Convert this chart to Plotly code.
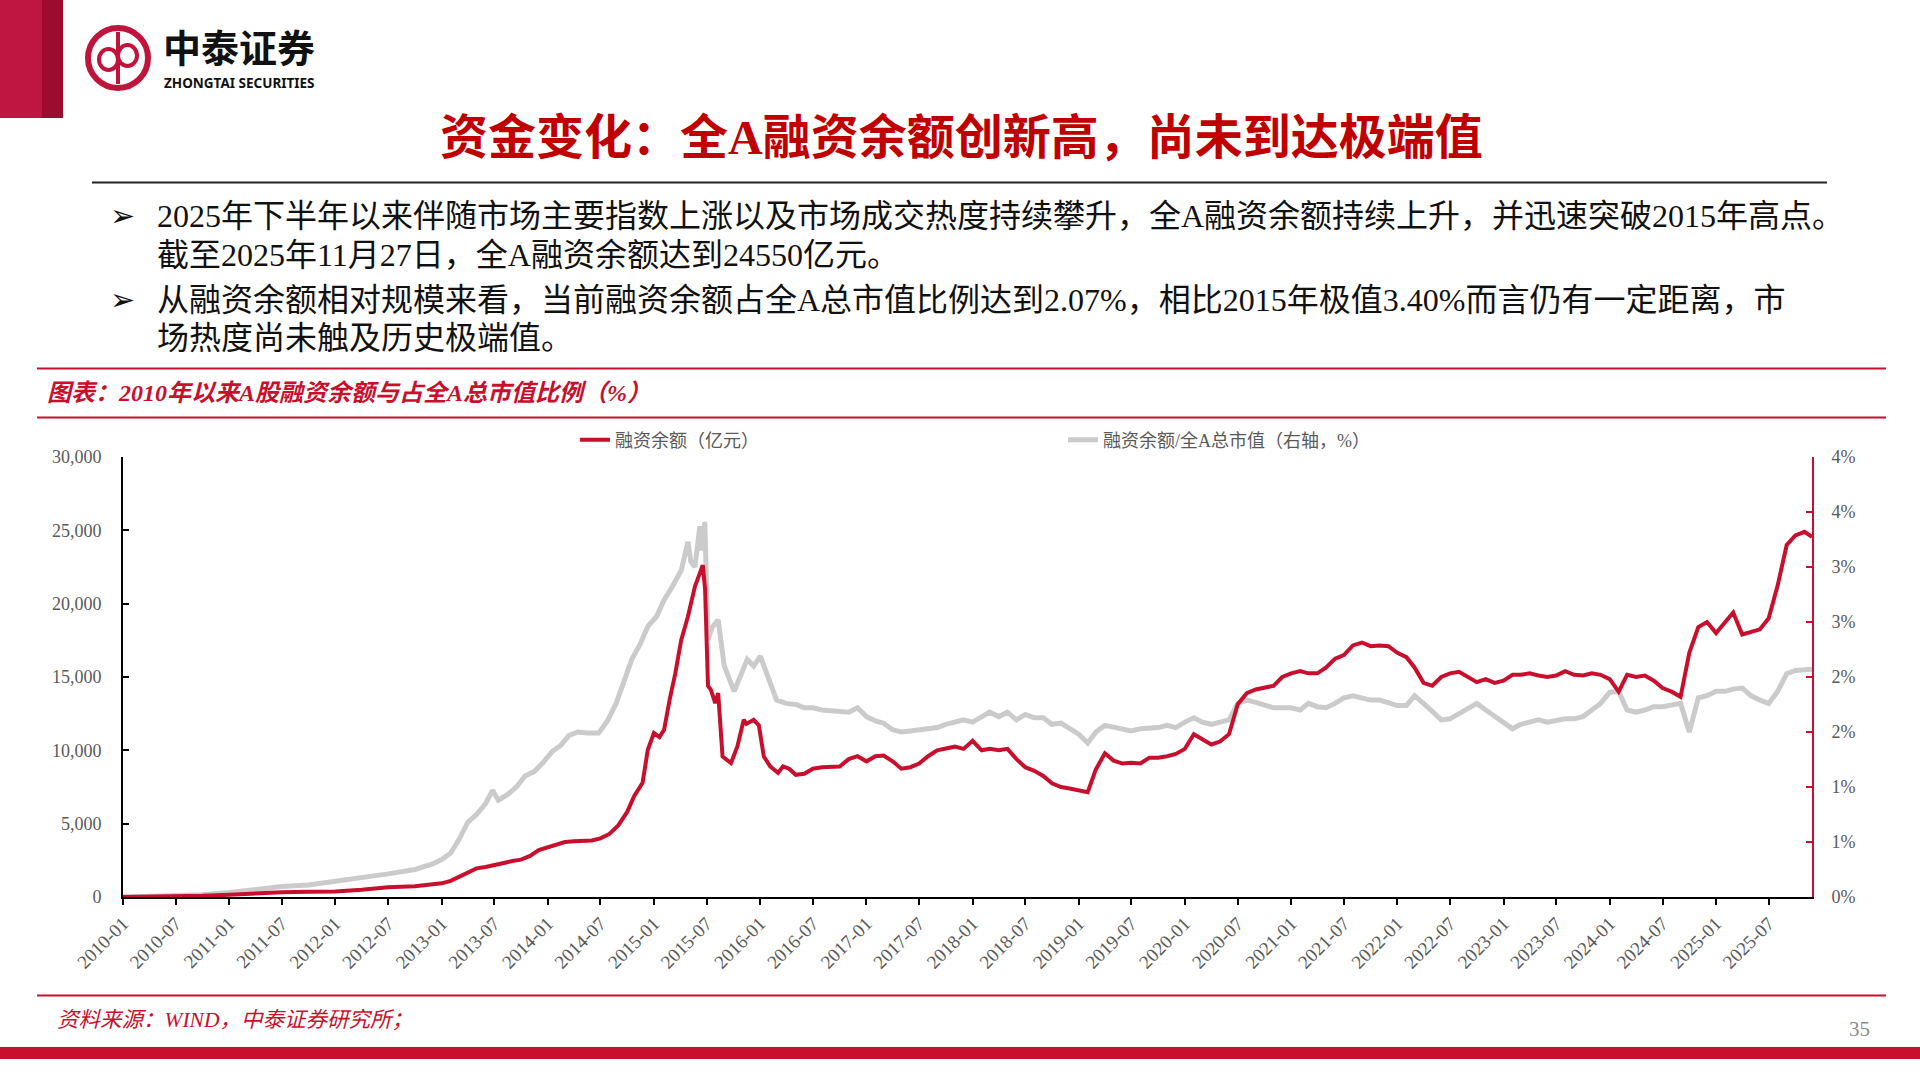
import plotly.graph_objects as go

# ---------------- data ----------------
balance_dates = [
    "2010-01-01", "2010-04-01", "2010-07-01", "2010-10-01",
    "2011-01-01", "2011-04-01", "2011-07-01", "2011-10-01",
    "2012-01-01", "2012-04-01", "2012-07-01", "2012-10-01",
    "2013-01-01", "2013-02-01", "2013-03-01", "2013-04-01", "2013-05-01", "2013-06-01",
    "2013-07-01", "2013-08-01", "2013-09-01", "2013-10-01", "2013-11-01", "2013-12-01",
    "2014-01-01", "2014-02-01", "2014-03-01", "2014-04-01", "2014-05-01", "2014-06-01",
    "2014-07-01", "2014-08-01", "2014-09-01", "2014-10-01", "2014-10-25", "2014-11-23",
    "2014-12-11", "2015-01-01", "2015-01-20", "2015-02-05", "2015-02-24", "2015-03-15",
    "2015-04-05", "2015-04-28", "2015-05-22", "2015-06-18", "2015-06-26", "2015-07-06",
    "2015-07-16", "2015-07-31", "2015-08-10", "2015-08-25", "2015-09-23", "2015-10-15",
    "2015-11-06", "2015-11-15", "2015-12-10", "2015-12-28", "2016-01-14", "2016-02-05",
    "2016-03-03", "2016-03-20", "2016-04-10", "2016-05-03", "2016-06-01",
    "2016-07-01", "2016-08-01", "2016-09-01", "2016-10-01", "2016-11-01", "2016-12-01",
    "2017-01-01", "2017-02-01", "2017-03-01", "2017-04-01", "2017-05-01", "2017-06-01",
    "2017-07-01", "2017-08-01", "2017-09-01", "2017-10-01", "2017-11-01", "2017-12-01",
    "2018-01-01", "2018-02-01", "2018-03-01", "2018-04-01", "2018-05-01", "2018-06-01",
    "2018-07-01", "2018-08-01", "2018-09-01", "2018-10-01", "2018-11-01", "2018-12-01",
    "2019-01-01", "2019-02-01", "2019-03-01", "2019-04-01", "2019-05-01", "2019-06-01",
    "2019-07-01", "2019-08-01", "2019-09-01", "2019-10-01", "2019-11-01", "2019-12-01",
    "2020-01-01", "2020-02-01", "2020-03-01", "2020-04-01", "2020-05-01", "2020-06-01",
    "2020-07-01", "2020-08-01", "2020-09-01", "2020-10-01", "2020-11-01", "2020-12-01",
    "2021-01-01", "2021-02-01", "2021-03-01", "2021-04-01", "2021-05-01", "2021-06-01",
    "2021-07-01", "2021-08-01", "2021-09-01", "2021-10-01", "2021-11-01", "2021-12-01",
    "2022-01-01", "2022-02-01", "2022-03-01", "2022-04-01", "2022-05-01", "2022-06-01",
    "2022-07-01", "2022-08-01", "2022-09-01", "2022-10-01", "2022-11-01", "2022-12-01",
    "2023-01-01", "2023-02-01", "2023-03-01", "2023-04-01", "2023-05-01", "2023-06-01",
    "2023-07-01", "2023-08-01", "2023-09-01", "2023-10-01", "2023-11-01", "2023-12-01",
    "2024-01-01", "2024-02-01", "2024-03-01", "2024-04-01", "2024-05-01", "2024-06-01",
    "2024-07-01", "2024-08-01", "2024-09-01", "2024-10-01", "2024-11-01", "2024-12-01",
    "2025-01-01", "2025-02-01", "2025-03-01", "2025-04-01", "2025-05-01", "2025-06-01",
    "2025-07-01", "2025-08-01", "2025-09-01", "2025-10-01", "2025-11-01", "2025-11-27",
]
balance_values = [
    0, 5, 35, 80,
    150, 260, 330, 360,
    380, 500, 670, 740,
    930, 1100, 1350, 1700, 1950, 2050,
    2200, 2300, 2450, 2550, 2800, 3200,
    3400, 3600, 3750, 3800, 3850, 3850,
    4000, 4300, 4900, 5800, 6870, 7780,
    10040, 11180, 10900, 11400, 13440, 15200,
    17530, 19120, 21160, 22630, 21000, 14400,
    14120, 13220, 13900, 9580, 9130, 10270,
    12080, 11800, 12080, 11700, 9580, 8910,
    8460, 8910, 8750, 8330, 8400,
    8750, 8850, 8850, 8900, 9400, 9600,
    9250, 9600, 9650, 9250, 8750, 8850,
    9100, 9600, 10000, 10100, 10250, 10100,
    10650, 10000, 10100, 10000, 10100, 9400,
    8850, 8600, 8250, 7750, 7500, 7400,
    7300, 7150, 8700, 9800, 9300, 9100,
    9150, 9100, 9500, 9500, 9600, 9750,
    10100, 11100, 10750, 10400, 10600, 11100,
    13150, 13900, 14150, 14250, 14400, 15000,
    15250, 15400, 15250, 15250, 15650, 16250,
    16500, 17150, 17350, 17100, 17150, 17100,
    16650, 16350, 15650, 14600, 14400, 15000,
    15250, 15350, 15000, 14650, 14850, 14600,
    14750, 15150, 15150, 15250, 15100, 15000,
    15100, 15400, 15150, 15100, 15250, 15150,
    14850, 14000, 15150, 15000, 15100, 14750,
    14250, 14000, 13650, 16650, 18400, 18750,
    18000, 18750, 19400, 17900, 18100, 18250,
    19000, 21250, 24000, 24650, 24900, 24550,
]

ratio_dates = [
    "2010-01-01", "2010-04-01", "2010-07-01", "2010-10-01",
    "2011-01-01", "2011-04-01", "2011-07-01", "2011-10-01",
    "2012-01-01", "2012-04-01", "2012-07-01", "2012-10-01", "2012-12-01",
    "2013-01-01", "2013-02-01", "2013-03-01", "2013-04-01", "2013-05-01", "2013-06-01",
    "2013-06-25", "2013-07-15", "2013-08-15", "2013-09-15", "2013-10-15", "2013-11-15",
    "2013-12-15", "2014-01-15", "2014-02-15", "2014-03-15", "2014-04-15", "2014-05-15",
    "2014-06-25", "2014-07-25", "2014-08-24", "2014-09-20", "2014-10-17", "2014-11-15",
    "2014-12-11", "2015-01-10", "2015-02-05", "2015-03-05", "2015-04-05", "2015-04-28",
    "2015-05-08", "2015-05-22", "2015-06-08", "2015-06-15", "2015-06-25", "2015-07-06",
    "2015-07-20", "2015-08-10", "2015-08-31", "2015-10-04", "2015-11-18", "2015-12-10",
    "2016-01-02", "2016-01-24", "2016-02-27", "2016-03-30", "2016-05-03",
    "2016-06-01", "2016-07-01", "2016-08-01", "2016-09-01", "2016-10-01", "2016-11-01", "2016-12-01",
    "2017-01-01", "2017-02-01", "2017-03-01", "2017-04-01", "2017-05-01", "2017-06-01",
    "2017-07-01", "2017-08-01", "2017-09-01", "2017-10-01", "2017-11-01", "2017-12-01",
    "2018-01-01", "2018-02-01", "2018-03-01", "2018-04-01", "2018-05-01", "2018-06-01",
    "2018-07-01", "2018-08-01", "2018-09-01", "2018-10-01", "2018-11-01", "2018-12-01",
    "2019-01-01", "2019-02-01", "2019-03-01", "2019-04-01", "2019-05-01", "2019-06-01",
    "2019-07-01", "2019-08-01", "2019-09-01", "2019-10-01", "2019-11-01", "2019-12-01",
    "2020-01-01", "2020-02-01", "2020-03-01", "2020-04-01", "2020-05-01", "2020-06-01",
    "2020-07-01", "2020-08-01", "2020-09-01", "2020-10-01", "2020-11-01", "2020-12-01",
    "2021-01-01", "2021-02-01", "2021-03-01", "2021-04-01", "2021-05-01", "2021-06-01",
    "2021-07-01", "2021-08-01", "2021-09-01", "2021-10-01", "2021-11-01", "2021-12-01",
    "2022-01-01", "2022-02-01", "2022-03-01", "2022-04-01", "2022-05-01", "2022-06-01",
    "2022-07-01", "2022-08-01", "2022-09-01", "2022-10-01", "2022-11-01", "2022-12-01",
    "2023-01-01", "2023-02-01", "2023-03-01", "2023-04-01", "2023-05-01", "2023-06-01",
    "2023-07-01", "2023-08-01", "2023-09-01", "2023-10-01", "2023-11-01", "2023-12-01",
    "2024-01-01", "2024-02-01", "2024-03-01", "2024-04-01", "2024-05-01", "2024-06-01",
    "2024-07-01", "2024-08-01", "2024-09-01", "2024-10-01", "2024-11-01", "2024-12-01",
    "2025-01-01", "2025-02-01", "2025-03-01", "2025-04-01", "2025-05-01", "2025-06-01",
    "2025-07-01", "2025-08-01", "2025-09-01", "2025-10-01", "2025-11-01", "2025-11-27",
]
ratio_values = [
    0.0, 0.005, 0.015, 0.02,
    0.04, 0.07, 0.095, 0.11,
    0.14, 0.17, 0.21, 0.25, 0.30,
    0.34, 0.40, 0.52, 0.68, 0.75, 0.85,
    0.97, 0.88, 0.93, 1.00, 1.10, 1.14,
    1.22, 1.32, 1.38, 1.47, 1.50, 1.49,
    1.49, 1.60, 1.76, 1.95, 2.16, 2.30,
    2.46, 2.55, 2.70, 2.82, 2.97, 3.23,
    3.05, 3.00, 3.37, 3.15, 3.41, 2.34,
    2.45, 2.52, 2.10, 1.87, 2.16, 2.10,
    2.19, 2.03, 1.79, 1.76, 1.75,
    1.72, 1.72, 1.70, 1.69, 1.68, 1.68, 1.72,
    1.64, 1.60, 1.58, 1.52, 1.50, 1.51,
    1.52, 1.53, 1.54, 1.57, 1.59, 1.61,
    1.59, 1.64, 1.68, 1.64, 1.68, 1.61,
    1.66, 1.63, 1.63, 1.57, 1.58, 1.53,
    1.48, 1.40, 1.50, 1.56, 1.54, 1.52,
    1.51, 1.53, 1.53, 1.54, 1.56, 1.54,
    1.59, 1.63, 1.59, 1.57, 1.59, 1.61,
    1.76, 1.79, 1.77, 1.74, 1.72, 1.72,
    1.72, 1.70, 1.76, 1.73, 1.72, 1.76,
    1.81, 1.83, 1.81, 1.79, 1.79, 1.77,
    1.74, 1.74, 1.83, 1.76, 1.68, 1.61,
    1.62, 1.67, 1.72, 1.76, 1.70, 1.64,
    1.59, 1.53, 1.57, 1.59, 1.61, 1.59,
    1.61, 1.62, 1.62, 1.64, 1.70, 1.76,
    1.86, 1.87, 1.70, 1.68, 1.70, 1.73,
    1.73, 1.74, 1.76, 1.50, 1.81, 1.83,
    1.87, 1.87, 1.89, 1.90, 1.83, 1.79,
    1.76, 1.87, 2.03, 2.06, 2.06, 2.07,
]

series_names = ["融资余额（亿元）", "融资余额/全A总市值（右轴，%）"]
left_tickvals = [0, 5000, 10000, 15000, 20000, 25000, 30000]
right_tickvals = [0, 0.5, 1.0, 1.5, 2.0, 2.5, 3.0, 3.5, 4.0]
right_ticktext = ["0%", "1%", "1%", "2%", "2%", "3%", "3%", "4%", "4%"]
x_range = ["2010-01-01", "2025-11-27"]

title_text = "资金变化：全A融资余额创新高，尚未到达极端值"
body_lines = [
    "2025年下半年以来伴随市场主要指数上涨以及市场成交热度持续攀升，全A融资余额持续上升，并迅速突破2015年高点。",
    "截至2025年11月27日，全A融资余额达到24550亿元。",
    "从融资余额相对规模来看，当前融资余额占全A总市值比例达到2.07%，相比2015年极值3.40%而言仍有一定距离，市",
    "场热度尚未触及历史极端值。",
]
chart_title = "图表：2010年以来A股融资余额与占全A总市值比例（%）"
source_text = "资料来源：WIND，中泰证券研究所；"
page_no = "35"

# ---------------- style / layout ----------------
RED = "#C8102E"
TITLE_RED = "#C00000"
GRAY_LINE = "#CBCBCB"
TXT_GRAY = "#595959"
SERIF = "Liberation Serif, 'Noto Sans CJK SC', serif"
W, H = 1920, 1080
PL, PR, PT, PB = 123, 1812, 457, 897  # plot area in pixels


def fx(px):
    return (px - PL) / (PR - PL)


def fy(py):
    return (PB - py) / (PB - PT)


fig = go.Figure()
fig.add_trace(go.Scatter(
    x=balance_dates, y=balance_values, name=series_names[0], yaxis="y2",
    mode="lines", line=dict(color=RED, width=4),
))
fig.add_trace(go.Scatter(
    x=ratio_dates, y=ratio_values, name=series_names[1], yaxis="y",
    mode="lines", line=dict(color=GRAY_LINE, width=5),
))

tickfont = dict(family=SERIF, size=18, color=TXT_GRAY)

fig.update_layout(
    width=W, height=H,
    margin=dict(l=PL, r=W - PR, t=PT, b=H - PB, autoexpand=False),
    paper_bgcolor="white", plot_bgcolor="white",
    showlegend=True,
    legend=dict(
        orientation="h", x=fx(575), xanchor="left", y=fy(440), yanchor="middle",
        font=dict(family=SERIF, size=18, color=TXT_GRAY),
        entrywidth=443, entrywidthmode="pixels",
        bgcolor="rgba(0,0,0,0)", borderwidth=0,
    ),
    xaxis=dict(
        type="date", range=x_range, tick0="2010-01-01", dtick="M6",
        tickformat="%Y-%m", tickangle=-45, ticks="outside", ticklen=6,
        tickcolor="black", tickwidth=1.5, showline=True, linecolor="black",
        linewidth=2, showgrid=False, zeroline=False,
        tickfont=dict(family=SERIF, size=19, color=TXT_GRAY),
    ),
    yaxis=dict(
        side="right", range=[0, 4], tickvals=right_tickvals, ticktext=right_ticktext,
        ticks="inside", ticklen=6, tickcolor=RED, tickwidth=1.5,
        showline=True, linecolor=RED, linewidth=2, showgrid=False, zeroline=False,
        tickfont=tickfont, ticklabelstandoff=14,
    ),
    yaxis2=dict(
        overlaying="y", side="left", range=[0, 30000], tickvals=left_tickvals,
        tickformat=",", ticks="inside", ticklen=6, tickcolor="black", tickwidth=1.5,
        showline=True, linecolor="black", linewidth=2, showgrid=False, zeroline=False,
        tickfont=tickfont, ticklabelstandoff=16,
    ),
)

shapes = []
# top-left red blocks
shapes.append(dict(type="rect", xref="paper", yref="paper", x0=fx(0), x1=fx(42), y0=fy(0), y1=fy(118),
                   fillcolor="#BE1640", line=dict(width=0), layer="above"))
shapes.append(dict(type="rect", xref="paper", yref="paper", x0=fx(42), x1=fx(63), y0=fy(0), y1=fy(118),
                   fillcolor="#9C0C2E", line=dict(width=0), layer="above"))
# logo ring
shapes.append(dict(type="circle", xref="paper", yref="paper", x0=fx(88), x1=fx(148), y0=fy(28), y1=fy(88),
                   line=dict(color="#C0143C", width=6), fillcolor="rgba(0,0,0,0)"))
shapes.append(dict(type="line", xref="paper", yref="paper", x0=fx(118), x1=fx(118), y0=fy(32), y1=fy(84),
                   line=dict(color="#C0143C", width=4)))
shapes.append(dict(type="circle", xref="paper", yref="paper", x0=fx(99), x1=fx(118), y0=fy(49), y1=fy(70),
                   line=dict(color="#C0143C", width=4), fillcolor="rgba(0,0,0,0)"))
shapes.append(dict(type="circle", xref="paper", yref="paper", x0=fx(118), x1=fx(137), y0=fy(45), y1=fy(66),
                   line=dict(color="#C0143C", width=4), fillcolor="rgba(0,0,0,0)"))
# black rule under title
shapes.append(dict(type="line", xref="paper", yref="paper", x0=fx(92), x1=fx(1827), y0=fy(182.5), y1=fy(182.5),
                   line=dict(color="#222222", width=2)))
# red rules around chart title and bottom
for yy in (368.5, 417.5, 995.5):
    shapes.append(dict(type="line", xref="paper", yref="paper", x0=fx(37), x1=fx(1886), y0=fy(yy), y1=fy(yy),
                       line=dict(color=RED, width=2)))
# bottom red band
shapes.append(dict(type="rect", xref="paper", yref="paper", x0=fx(0), x1=fx(1920), y0=fy(1047), y1=fy(1059),
                   fillcolor=RED, line=dict(width=0)))
fig.update_layout(shapes=shapes)

ann = []
ann.append(dict(text="<b>中泰证券</b>", x=fx(161), y=fy(45), xanchor="left", yanchor="middle",
                font=dict(family="'Noto Sans CJK SC'", size=38, color="#111111")))
ann.append(dict(text="<b>ZHONGTAI SECURITIES</b>", x=fx(162), y=fy(83), xanchor="left", yanchor="middle",
                font=dict(family="'Noto Sans', sans-serif", size=13.5, color="#111111")))
ann.append(dict(text="<b>" + title_text + "</b>", x=fx(961), y=fy(137), xanchor="center", yanchor="middle",
                font=dict(family=SERIF, size=48, color=TITLE_RED)))
for yy in (215.5, 300):
    ann.append(dict(text="➢", x=fx(122), y=fy(yy), xanchor="center", yanchor="middle",
                    font=dict(family="DejaVu Sans", size=30, color="#111111")))
for txt, yy in zip(body_lines, (215.5, 254.7, 300, 338)):
    ann.append(dict(text=txt, x=fx(155), y=fy(yy), xanchor="left", yanchor="middle",
                    font=dict(family=SERIF, size=32, color="#111111")))
ann.append(dict(text="<b><i>" + chart_title + "</i></b>", x=fx(45), y=fy(393), xanchor="left", yanchor="middle",
                font=dict(family=SERIF, size=24, color=RED)))
ann.append(dict(text="<i>" + source_text + "</i>", x=fx(55), y=fy(1020), xanchor="left", yanchor="middle",
                font=dict(family=SERIF, size=21.5, color=RED)))
ann.append(dict(text=page_no, x=fx(1859), y=fy(1029), xanchor="center", yanchor="middle",
                font=dict(family=SERIF, size=21, color="#8C8C8C")))
for a in ann:
    a.update(xref="paper", yref="paper", showarrow=False)
fig.update_layout(annotations=ann)

fig.write_html("out.html", config={"displayModeBar": False},
               post_script="document.body.style.margin='0';")
